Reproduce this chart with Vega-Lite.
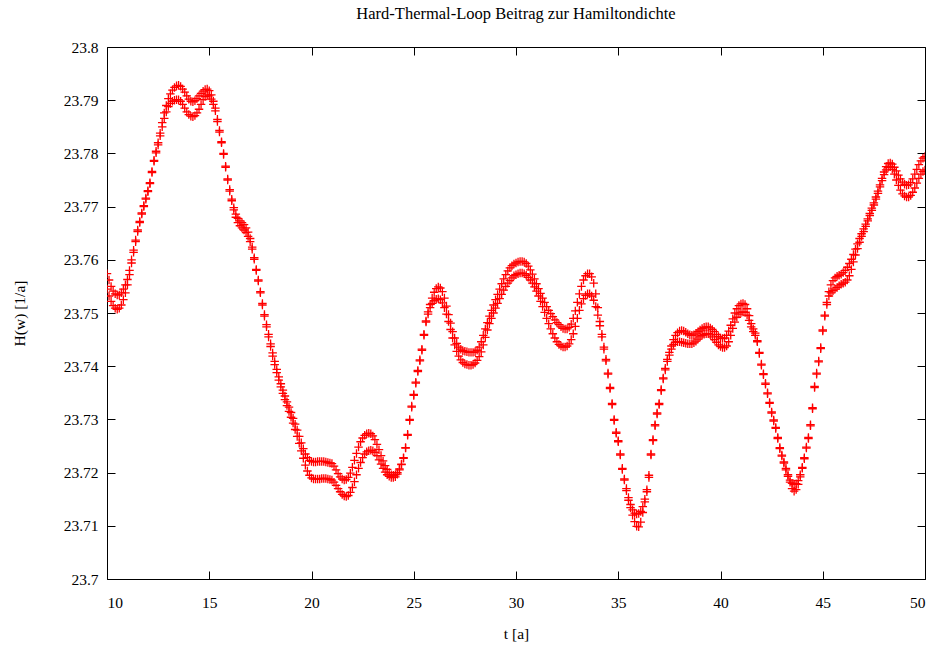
{
  "$schema": "https://vega.github.io/schema/vega-lite/v6.json",
  "width": 818,
  "height": 532,
  "autosize": {"type": "none"},
  "padding": {"left": 107, "top": 47, "right": 10, "bottom": 71},
  "background": "white",
  "title": {"text": "Hard-Thermal-Loop Beitrag zur Hamiltondichte", "font": "Liberation Serif", "fontSize": 16.5, "fontWeight": "normal", "color": "black", "offset": 18},
  "config": {
    "view": {"stroke": "black", "strokeWidth": 1},
    "axis": {"domain": false, "grid": false, "tickColor": "black", "tickWidth": 1, "labelFont": "Liberation Serif", "labelFontSize": 15.5, "labelColor": "black", "titleFont": "Liberation Serif", "titleFontSize": 15.5, "titleFontWeight": "normal", "titleColor": "black"}
  },
  "data": {"values": [
{"t":10.0,"a":23.7574,"b":23.7545},{"t":10.1,"a":23.7562,"b":23.7532},{"t":10.2,"a":23.7550,"b":23.7522},{"t":10.3,"a":23.7541,"b":23.7514},{"t":10.4,"a":23.7536,"b":23.7509},
{"t":10.5,"a":23.7534,"b":23.7507},{"t":10.6,"a":23.7534,"b":23.7509},{"t":10.7,"a":23.7538,"b":23.7515},{"t":10.8,"a":23.7545,"b":23.7525},{"t":10.9,"a":23.7553,"b":23.7538},
{"t":11.0,"a":23.7563,"b":23.7553},{"t":11.1,"a":23.7580,"b":23.7572},{"t":11.2,"a":23.7600,"b":23.7594},{"t":11.3,"a":23.7618,"b":23.7614},{"t":11.4,"a":23.7637,"b":23.7634},
{"t":11.5,"a":23.7656,"b":23.7653},{"t":11.6,"a":23.7672,"b":23.7670},{"t":11.7,"a":23.7688,"b":23.7686},{"t":11.8,"a":23.7702,"b":23.7700},{"t":11.9,"a":23.7716,"b":23.7714},
{"t":12.0,"a":23.7730,"b":23.7728},{"t":12.1,"a":23.7745,"b":23.7743},{"t":12.2,"a":23.7766,"b":23.7764},{"t":12.3,"a":23.7787,"b":23.7785},{"t":12.4,"a":23.7804,"b":23.7801},
{"t":12.5,"a":23.7820,"b":23.7816},{"t":12.6,"a":23.7838,"b":23.7833},{"t":12.7,"a":23.7858,"b":23.7850},{"t":12.8,"a":23.7876,"b":23.7866},{"t":12.9,"a":23.7890,"b":23.7878},
{"t":13.0,"a":23.7903,"b":23.7888},{"t":13.1,"a":23.7912,"b":23.7894},{"t":13.2,"a":23.7919,"b":23.7898},{"t":13.3,"a":23.7924,"b":23.7900},{"t":13.4,"a":23.7927,"b":23.7901},
{"t":13.5,"a":23.7928,"b":23.7901},{"t":13.6,"a":23.7926,"b":23.7898},{"t":13.7,"a":23.7921,"b":23.7892},{"t":13.8,"a":23.7915,"b":23.7885},{"t":13.9,"a":23.7908,"b":23.7878},
{"t":14.0,"a":23.7902,"b":23.7873},{"t":14.1,"a":23.7898,"b":23.7870},{"t":14.2,"a":23.7897,"b":23.7869},{"t":14.3,"a":23.7899,"b":23.7871},{"t":14.4,"a":23.7903,"b":23.7876},
{"t":14.5,"a":23.7908,"b":23.7883},{"t":14.6,"a":23.7913,"b":23.7892},{"t":14.7,"a":23.7917,"b":23.7901},{"t":14.8,"a":23.7920,"b":23.7907},{"t":14.9,"a":23.7921,"b":23.7910},
{"t":15.0,"a":23.7918,"b":23.7908},{"t":15.1,"a":23.7910,"b":23.7902},{"t":15.2,"a":23.7898,"b":23.7892},{"t":15.3,"a":23.7885,"b":23.7880},{"t":15.4,"a":23.7864,"b":23.7860},
{"t":15.5,"a":23.7843,"b":23.7840},{"t":15.6,"a":23.7822,"b":23.7820},{"t":15.7,"a":23.7800,"b":23.7798},{"t":15.8,"a":23.7776,"b":23.7774},{"t":15.9,"a":23.7752,"b":23.7750},
{"t":16.0,"a":23.7732,"b":23.7729},{"t":16.1,"a":23.7714,"b":23.7711},{"t":16.2,"a":23.7698,"b":23.7694},{"t":16.3,"a":23.7686,"b":23.7680},{"t":16.4,"a":23.7678,"b":23.7670},
{"t":16.5,"a":23.7673,"b":23.7664},{"t":16.6,"a":23.7670,"b":23.7660},{"t":16.7,"a":23.7666,"b":23.7656},{"t":16.8,"a":23.7660,"b":23.7651},{"t":16.9,"a":23.7652,"b":23.7644},
{"t":17.0,"a":23.7640,"b":23.7634},{"t":17.1,"a":23.7624,"b":23.7620},{"t":17.2,"a":23.7604,"b":23.7601},{"t":17.3,"a":23.7582,"b":23.7580},{"t":17.4,"a":23.7562,"b":23.7560},
{"t":17.5,"a":23.7540,"b":23.7538},{"t":17.6,"a":23.7518,"b":23.7515},{"t":17.7,"a":23.7497,"b":23.7494},{"t":17.8,"a":23.7478,"b":23.7474},{"t":17.9,"a":23.7460,"b":23.7455},
{"t":18.0,"a":23.7442,"b":23.7437},{"t":18.1,"a":23.7425,"b":23.7419},{"t":18.2,"a":23.7409,"b":23.7403},{"t":18.3,"a":23.7394,"b":23.7388},{"t":18.4,"a":23.7380,"b":23.7374},
{"t":18.5,"a":23.7367,"b":23.7361},{"t":18.6,"a":23.7355,"b":23.7349},{"t":18.7,"a":23.7344,"b":23.7337},{"t":18.8,"a":23.7333,"b":23.7326},{"t":18.9,"a":23.7323,"b":23.7315},
{"t":19.0,"a":23.7313,"b":23.7304},{"t":19.1,"a":23.7302,"b":23.7293},{"t":19.2,"a":23.7291,"b":23.7281},{"t":19.3,"a":23.7280,"b":23.7268},{"t":19.4,"a":23.7268,"b":23.7255},
{"t":19.5,"a":23.7256,"b":23.7241},{"t":19.6,"a":23.7245,"b":23.7227},{"t":19.7,"a":23.7235,"b":23.7214},{"t":19.8,"a":23.7228,"b":23.7203},{"t":19.9,"a":23.7223,"b":23.7195},
{"t":20.0,"a":23.7221,"b":23.7190},{"t":20.1,"a":23.7220,"b":23.7188},{"t":20.2,"a":23.7220,"b":23.7188},{"t":20.3,"a":23.7221,"b":23.7188},{"t":20.4,"a":23.7221,"b":23.7188},
{"t":20.5,"a":23.7221,"b":23.7189},{"t":20.6,"a":23.7221,"b":23.7189},{"t":20.7,"a":23.7220,"b":23.7189},{"t":20.8,"a":23.7219,"b":23.7188},{"t":20.9,"a":23.7218,"b":23.7187},
{"t":21.0,"a":23.7217,"b":23.7186},{"t":21.1,"a":23.7212,"b":23.7182},{"t":21.2,"a":23.7205,"b":23.7176},{"t":21.3,"a":23.7198,"b":23.7170},{"t":21.4,"a":23.7192,"b":23.7164},
{"t":21.5,"a":23.7188,"b":23.7159},{"t":21.6,"a":23.7186,"b":23.7156},{"t":21.7,"a":23.7187,"b":23.7155},{"t":21.8,"a":23.7191,"b":23.7157},{"t":21.9,"a":23.7199,"b":23.7163},
{"t":22.0,"a":23.7210,"b":23.7172},{"t":22.1,"a":23.7223,"b":23.7183},{"t":22.2,"a":23.7236,"b":23.7196},{"t":22.3,"a":23.7248,"b":23.7208},{"t":22.4,"a":23.7258,"b":23.7219},
{"t":22.5,"a":23.7265,"b":23.7228},{"t":22.6,"a":23.7270,"b":23.7235},{"t":22.7,"a":23.7273,"b":23.7239},{"t":22.8,"a":23.7274,"b":23.7241},{"t":22.9,"a":23.7273,"b":23.7242},
{"t":23.0,"a":23.7269,"b":23.7241},{"t":23.1,"a":23.7262,"b":23.7238},{"t":23.2,"a":23.7253,"b":23.7232},{"t":23.3,"a":23.7243,"b":23.7224},{"t":23.4,"a":23.7232,"b":23.7216},
{"t":23.5,"a":23.7222,"b":23.7208},{"t":23.6,"a":23.7213,"b":23.7201},{"t":23.7,"a":23.7206,"b":23.7196},{"t":23.8,"a":23.7200,"b":23.7193},{"t":23.9,"a":23.7196,"b":23.7191},
{"t":24.0,"a":23.7195,"b":23.7191},{"t":24.1,"a":23.7196,"b":23.7192},{"t":24.2,"a":23.7200,"b":23.7197},{"t":24.3,"a":23.7207,"b":23.7205},{"t":24.4,"a":23.7216,"b":23.7215},
{"t":24.5,"a":23.7228,"b":23.7227},{"t":24.6,"a":23.7247,"b":23.7246},{"t":24.7,"a":23.7272,"b":23.7270},{"t":24.8,"a":23.7300,"b":23.7298},{"t":24.9,"a":23.7325,"b":23.7323},
{"t":25.0,"a":23.7347,"b":23.7345},{"t":25.1,"a":23.7370,"b":23.7368},{"t":25.2,"a":23.7392,"b":23.7390},{"t":25.3,"a":23.7412,"b":23.7410},{"t":25.4,"a":23.7432,"b":23.7430},
{"t":25.5,"a":23.7460,"b":23.7458},{"t":25.6,"a":23.7485,"b":23.7483},{"t":25.7,"a":23.7502,"b":23.7498},{"t":25.8,"a":23.7516,"b":23.7510},{"t":25.9,"a":23.7528,"b":23.7518},
{"t":26.0,"a":23.7539,"b":23.7523},{"t":26.1,"a":23.7546,"b":23.7526},{"t":26.2,"a":23.7549,"b":23.7527},{"t":26.3,"a":23.7547,"b":23.7525},{"t":26.4,"a":23.7540,"b":23.7519},
{"t":26.5,"a":23.7528,"b":23.7510},{"t":26.6,"a":23.7513,"b":23.7498},{"t":26.7,"a":23.7497,"b":23.7484},{"t":26.8,"a":23.7481,"b":23.7469},{"t":26.9,"a":23.7465,"b":23.7453},
{"t":27.0,"a":23.7453,"b":23.7440},{"t":27.1,"a":23.7443,"b":23.7428},{"t":27.2,"a":23.7436,"b":23.7419},{"t":27.3,"a":23.7432,"b":23.7412},{"t":27.4,"a":23.7429,"b":23.7407},
{"t":27.5,"a":23.7428,"b":23.7404},{"t":27.6,"a":23.7427,"b":23.7403},{"t":27.7,"a":23.7426,"b":23.7402},{"t":27.8,"a":23.7426,"b":23.7402},{"t":27.9,"a":23.7426,"b":23.7403},
{"t":28.0,"a":23.7427,"b":23.7406},{"t":28.1,"a":23.7430,"b":23.7411},{"t":28.2,"a":23.7436,"b":23.7418},{"t":28.3,"a":23.7446,"b":23.7427},{"t":28.4,"a":23.7458,"b":23.7440},
{"t":28.5,"a":23.7470,"b":23.7454},{"t":28.6,"a":23.7482,"b":23.7468},{"t":28.7,"a":23.7494,"b":23.7480},{"t":28.8,"a":23.7505,"b":23.7490},{"t":28.9,"a":23.7515,"b":23.7500},
{"t":29.0,"a":23.7525,"b":23.7509},{"t":29.1,"a":23.7535,"b":23.7518},{"t":29.2,"a":23.7545,"b":23.7527},{"t":29.3,"a":23.7555,"b":23.7535},{"t":29.4,"a":23.7564,"b":23.7543},
{"t":29.5,"a":23.7572,"b":23.7550},{"t":29.6,"a":23.7579,"b":23.7556},{"t":29.7,"a":23.7585,"b":23.7561},{"t":29.8,"a":23.7589,"b":23.7566},{"t":29.9,"a":23.7592,"b":23.7570},
{"t":30.0,"a":23.7594,"b":23.7572},{"t":30.1,"a":23.7596,"b":23.7574},{"t":30.2,"a":23.7597,"b":23.7575},{"t":30.3,"a":23.7597,"b":23.7575},{"t":30.4,"a":23.7596,"b":23.7574},
{"t":30.5,"a":23.7593,"b":23.7571},{"t":30.6,"a":23.7588,"b":23.7567},{"t":30.7,"a":23.7581,"b":23.7562},{"t":30.8,"a":23.7573,"b":23.7556},{"t":30.9,"a":23.7564,"b":23.7549},
{"t":31.0,"a":23.7555,"b":23.7541},{"t":31.1,"a":23.7546,"b":23.7532},{"t":31.2,"a":23.7537,"b":23.7522},{"t":31.3,"a":23.7528,"b":23.7512},{"t":31.4,"a":23.7520,"b":23.7501},
{"t":31.5,"a":23.7512,"b":23.7490},{"t":31.6,"a":23.7505,"b":23.7480},{"t":31.7,"a":23.7499,"b":23.7470},{"t":31.8,"a":23.7493,"b":23.7461},{"t":31.9,"a":23.7487,"b":23.7453},
{"t":32.0,"a":23.7482,"b":23.7446},{"t":32.1,"a":23.7478,"b":23.7441},{"t":32.2,"a":23.7474,"b":23.7438},{"t":32.3,"a":23.7471,"b":23.7436},{"t":32.4,"a":23.7470,"b":23.7436},
{"t":32.5,"a":23.7470,"b":23.7438},{"t":32.6,"a":23.7473,"b":23.7442},{"t":32.7,"a":23.7479,"b":23.7450},{"t":32.8,"a":23.7490,"b":23.7461},{"t":32.9,"a":23.7504,"b":23.7475},
{"t":33.0,"a":23.7520,"b":23.7490},{"t":33.1,"a":23.7536,"b":23.7505},{"t":33.2,"a":23.7550,"b":23.7517},{"t":33.3,"a":23.7562,"b":23.7527},{"t":33.4,"a":23.7570,"b":23.7533},
{"t":33.5,"a":23.7574,"b":23.7536},{"t":33.6,"a":23.7574,"b":23.7536},{"t":33.7,"a":23.7568,"b":23.7532},{"t":33.8,"a":23.7556,"b":23.7524},{"t":33.9,"a":23.7536,"b":23.7512},
{"t":34.0,"a":23.7510,"b":23.7496},{"t":34.1,"a":23.7484,"b":23.7476},{"t":34.2,"a":23.7460,"b":23.7455},{"t":34.3,"a":23.7436,"b":23.7432},{"t":34.4,"a":23.7413,"b":23.7410},
{"t":34.5,"a":23.7387,"b":23.7385},{"t":34.6,"a":23.7360,"b":23.7358},{"t":34.7,"a":23.7330,"b":23.7328},{"t":34.8,"a":23.7300,"b":23.7298},{"t":34.9,"a":23.7276,"b":23.7274},
{"t":35.0,"a":23.7260,"b":23.7258},{"t":35.1,"a":23.7235,"b":23.7233},{"t":35.2,"a":23.7208,"b":23.7206},{"t":35.3,"a":23.7188,"b":23.7186},{"t":35.4,"a":23.7170,"b":23.7166},
{"t":35.5,"a":23.7153,"b":23.7148},{"t":35.6,"a":23.7140,"b":23.7134},{"t":35.7,"a":23.7130,"b":23.7120},{"t":35.8,"a":23.7124,"b":23.7108},{"t":35.9,"a":23.7122,"b":23.7099},
{"t":36.0,"a":23.7123,"b":23.7098},{"t":36.1,"a":23.7127,"b":23.7107},{"t":36.2,"a":23.7136,"b":23.7125},{"t":36.3,"a":23.7150,"b":23.7145},{"t":36.4,"a":23.7168,"b":23.7164},
{"t":36.5,"a":23.7195,"b":23.7191},{"t":36.6,"a":23.7235,"b":23.7233},{"t":36.7,"a":23.7262,"b":23.7260},{"t":36.8,"a":23.7290,"b":23.7288},{"t":36.9,"a":23.7312,"b":23.7310},
{"t":37.0,"a":23.7330,"b":23.7328},{"t":37.1,"a":23.7356,"b":23.7354},{"t":37.2,"a":23.7378,"b":23.7376},{"t":37.3,"a":23.7396,"b":23.7393},{"t":37.4,"a":23.7413,"b":23.7409},
{"t":37.5,"a":23.7426,"b":23.7421},{"t":37.6,"a":23.7438,"b":23.7432},{"t":37.7,"a":23.7450,"b":23.7441},{"t":37.8,"a":23.7458,"b":23.7445},{"t":37.9,"a":23.7463,"b":23.7446},
{"t":38.0,"a":23.7466,"b":23.7446},{"t":38.1,"a":23.7467,"b":23.7445},{"t":38.2,"a":23.7466,"b":23.7444},{"t":38.3,"a":23.7464,"b":23.7443},{"t":38.4,"a":23.7461,"b":23.7442},
{"t":38.5,"a":23.7459,"b":23.7442},{"t":38.6,"a":23.7458,"b":23.7442},{"t":38.7,"a":23.7459,"b":23.7444},{"t":38.8,"a":23.7462,"b":23.7447},{"t":38.9,"a":23.7465,"b":23.7451},
{"t":39.0,"a":23.7468,"b":23.7455},{"t":39.1,"a":23.7471,"b":23.7458},{"t":39.2,"a":23.7473,"b":23.7460},{"t":39.3,"a":23.7474,"b":23.7461},{"t":39.4,"a":23.7474,"b":23.7461},
{"t":39.5,"a":23.7472,"b":23.7459},{"t":39.6,"a":23.7469,"b":23.7455},{"t":39.7,"a":23.7465,"b":23.7450},{"t":39.8,"a":23.7460,"b":23.7445},{"t":39.9,"a":23.7456,"b":23.7440},
{"t":40.0,"a":23.7453,"b":23.7437},{"t":40.1,"a":23.7452,"b":23.7435},{"t":40.2,"a":23.7453,"b":23.7435},{"t":40.3,"a":23.7458,"b":23.7438},{"t":40.4,"a":23.7466,"b":23.7446},
{"t":40.5,"a":23.7477,"b":23.7458},{"t":40.6,"a":23.7489,"b":23.7471},{"t":40.7,"a":23.7500,"b":23.7483},{"t":40.8,"a":23.7508,"b":23.7492},{"t":40.9,"a":23.7514,"b":23.7498},
{"t":41.0,"a":23.7517,"b":23.7501},{"t":41.1,"a":23.7518,"b":23.7502},{"t":41.2,"a":23.7516,"b":23.7501},{"t":41.3,"a":23.7508,"b":23.7496},{"t":41.4,"a":23.7495,"b":23.7486},
{"t":41.5,"a":23.7480,"b":23.7474},{"t":41.6,"a":23.7470,"b":23.7465},{"t":41.7,"a":23.7462,"b":23.7458},{"t":41.8,"a":23.7448,"b":23.7446},{"t":41.9,"a":23.7426,"b":23.7424},
{"t":42.0,"a":23.7404,"b":23.7402},{"t":42.1,"a":23.7386,"b":23.7384},{"t":42.2,"a":23.7368,"b":23.7366},{"t":42.3,"a":23.7350,"b":23.7348},{"t":42.4,"a":23.7332,"b":23.7330},
{"t":42.5,"a":23.7314,"b":23.7312},{"t":42.6,"a":23.7299,"b":23.7297},{"t":42.7,"a":23.7285,"b":23.7283},{"t":42.8,"a":23.7266,"b":23.7264},{"t":42.9,"a":23.7247,"b":23.7245},
{"t":43.0,"a":23.7233,"b":23.7231},{"t":43.1,"a":23.7220,"b":23.7218},{"t":43.2,"a":23.7208,"b":23.7205},{"t":43.3,"a":23.7196,"b":23.7193},{"t":43.4,"a":23.7186,"b":23.7182},
{"t":43.5,"a":23.7180,"b":23.7170},{"t":43.6,"a":23.7178,"b":23.7165},{"t":43.7,"a":23.7179,"b":23.7168},{"t":43.8,"a":23.7185,"b":23.7178},{"t":43.9,"a":23.7196,"b":23.7192},
{"t":44.0,"a":23.7210,"b":23.7208},{"t":44.1,"a":23.7228,"b":23.7226},{"t":44.2,"a":23.7248,"b":23.7246},{"t":44.3,"a":23.7266,"b":23.7264},{"t":44.4,"a":23.7290,"b":23.7288},
{"t":44.5,"a":23.7322,"b":23.7320},{"t":44.6,"a":23.7362,"b":23.7360},{"t":44.7,"a":23.7387,"b":23.7385},{"t":44.8,"a":23.7410,"b":23.7408},{"t":44.9,"a":23.7435,"b":23.7433},
{"t":45.0,"a":23.7468,"b":23.7466},{"t":45.1,"a":23.7496,"b":23.7494},{"t":45.2,"a":23.7520,"b":23.7516},{"t":45.3,"a":23.7540,"b":23.7532},{"t":45.4,"a":23.7553,"b":23.7538},
{"t":45.5,"a":23.7561,"b":23.7542},{"t":45.6,"a":23.7566,"b":23.7545},{"t":45.7,"a":23.7569,"b":23.7548},{"t":45.8,"a":23.7571,"b":23.7551},{"t":45.9,"a":23.7573,"b":23.7554},
{"t":46.0,"a":23.7576,"b":23.7556},{"t":46.1,"a":23.7580,"b":23.7558},{"t":46.2,"a":23.7586,"b":23.7562},{"t":46.3,"a":23.7593,"b":23.7570},{"t":46.4,"a":23.7601,"b":23.7582},
{"t":46.5,"a":23.7610,"b":23.7596},{"t":46.6,"a":23.7620,"b":23.7609},{"t":46.7,"a":23.7630,"b":23.7621},{"t":46.8,"a":23.7640,"b":23.7633},{"t":46.9,"a":23.7649,"b":23.7644},
{"t":47.0,"a":23.7658,"b":23.7653},{"t":47.1,"a":23.7667,"b":23.7663},{"t":47.2,"a":23.7677,"b":23.7673},{"t":47.3,"a":23.7687,"b":23.7683},{"t":47.4,"a":23.7697,"b":23.7693},
{"t":47.5,"a":23.7707,"b":23.7703},{"t":47.6,"a":23.7718,"b":23.7714},{"t":47.7,"a":23.7729,"b":23.7725},{"t":47.8,"a":23.7741,"b":23.7737},{"t":47.9,"a":23.7753,"b":23.7749},
{"t":48.0,"a":23.7765,"b":23.7760},{"t":48.1,"a":23.7775,"b":23.7769},{"t":48.2,"a":23.7781,"b":23.7774},{"t":48.3,"a":23.7782,"b":23.7775},{"t":48.4,"a":23.7780,"b":23.7770},
{"t":48.5,"a":23.7774,"b":23.7761},{"t":48.6,"a":23.7767,"b":23.7750},{"t":48.7,"a":23.7759,"b":23.7740},{"t":48.8,"a":23.7752,"b":23.7731},{"t":48.9,"a":23.7746,"b":23.7724},
{"t":49.0,"a":23.7742,"b":23.7720},{"t":49.1,"a":23.7740,"b":23.7718},{"t":49.2,"a":23.7741,"b":23.7718},{"t":49.3,"a":23.7745,"b":23.7721},{"t":49.4,"a":23.7752,"b":23.7727},
{"t":49.5,"a":23.7761,"b":23.7735},{"t":49.6,"a":23.7770,"b":23.7744},{"t":49.7,"a":23.7779,"b":23.7753},{"t":49.8,"a":23.7786,"b":23.7761},{"t":49.9,"a":23.7791,"b":23.7766},
{"t":50.0,"a":23.7794,"b":23.7769}
  ]},
  "resolve": {"axis": {"x": "independent", "y": "independent"}},
  "layer": [
    {
      "mark": {"type": "point", "shape": "M-1,0L1,0M0,-1L0,1", "filled": false, "stroke": "#ff0000", "strokeWidth": 1.3, "size": 72, "opacity": 1, "clip": true},
      "encoding": {
        "x": {"field": "t", "type": "quantitative", "scale": {"domain": [10, 50], "nice": false, "zero": false},
              "axis": {"orient": "bottom", "title": "t [a]", "values": [10, 15, 20, 25, 30, 35, 40, 45, 50], "format": "d", "tickSize": -8, "labelPadding": 24, "titlePadding": 16}},
        "y": {"field": "a", "type": "quantitative", "scale": {"domain": [23.7, 23.8], "nice": false, "zero": false},
              "axis": {"orient": "left", "title": "H(w) [1/a]", "values": [23.7, 23.71, 23.72, 23.73, 23.74, 23.75, 23.76, 23.77, 23.78, 23.79, 23.8], "format": ".2~f", "tickSize": -8, "labelPadding": 17, "titlePadding": 36}}
      }
    },
    {
      "mark": {"type": "point", "shape": "M-1,0L1,0M0,-1L0,1", "filled": false, "stroke": "#ff0000", "strokeWidth": 1.3, "size": 72, "opacity": 1, "clip": true},
      "encoding": {
        "x": {"field": "t", "type": "quantitative",
              "axis": {"orient": "top", "title": null, "labels": false, "values": [10, 15, 20, 25, 30, 35, 40, 45, 50], "tickSize": -8}},
        "y": {"field": "b", "type": "quantitative",
              "axis": {"orient": "right", "title": null, "labels": false, "values": [23.7, 23.71, 23.72, 23.73, 23.74, 23.75, 23.76, 23.77, 23.78, 23.79, 23.8], "tickSize": -8}}
      }
    }
  ]
}
